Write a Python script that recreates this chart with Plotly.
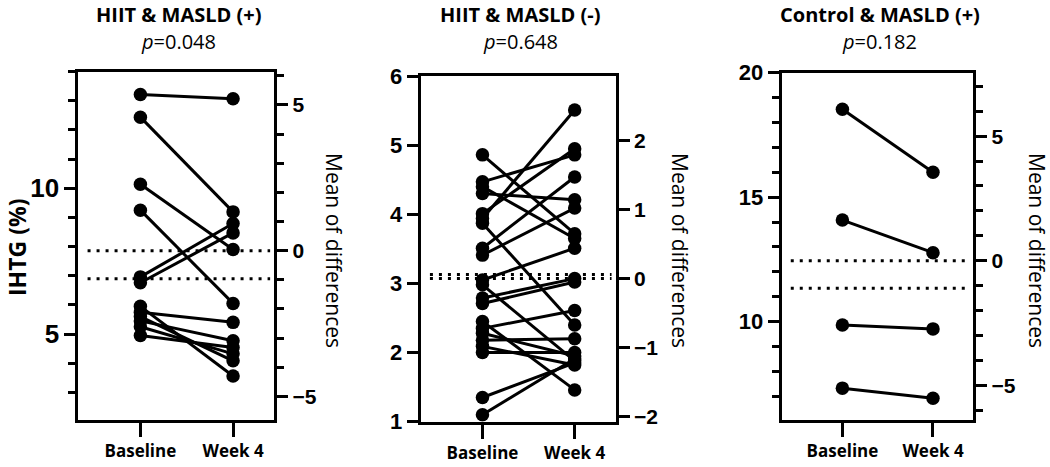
import plotly.graph_objects as go

# ---------------- data ----------------
time_labels = ["Baseline", "Week 4"]

panel_titles = ["HIIT & MASLD (+)", "HIIT & MASLD (-)", "Control & MASLD (+)"]
p_values = ["0.048", "0.648", "0.182"]

# HIIT & MASLD (+)
p1_baseline = [13.22, 12.44, 10.14, 9.25, 6.96, 6.76, 5.95, 5.75, 5.60, 5.45, 5.25, 4.95]
p1_week4 = [13.07, 9.19, 7.90, 6.05, 8.79, 8.47, 3.56, 5.40, 4.08, 4.77, 4.32, 4.54]
p1_mean_diff = -0.96

# HIIT & MASLD (-)
p2_baseline = [4.86, 4.47, 4.40, 4.30, 4.01, 3.94, 3.51, 3.41, 3.05, 3.87,
               2.98, 2.79, 2.71, 2.45, 2.35, 2.28, 2.18, 2.09, 2.00, 1.35, 1.10]
p2_week4 = [3.72, 4.86, 3.65, 4.21, 4.95, 5.51, 4.54, 4.09, 3.51, 2.40,
            1.88, 3.07, 3.02, 1.46, 2.61, 1.95, 2.20, 1.82, 2.00, 1.85, 1.91]
p2_mean_diff = 0.06

# Control & MASLD (+)
p3_baseline = [18.53, 14.08, 9.87, 7.33]
p3_week4 = [16.00, 12.77, 9.71, 6.92]
p3_mean_diff = -1.11

# ---------------- layout helpers ----------------
W, H = 1050, 467
def px_x(v):
    return v / W
def px_y(v):
    return 1 - v / H

panels = [
    dict(b=p1_baseline, w=p1_week4, md=p1_mean_diff,
         xpx=(78.3, 274.3), ypx=(71.7, 420), yrange=(2.05, 14.0), offset=7.86,
         dtick_l=5, minor_l=1, dtick_r=5, minor_r=1, lfont=26),
    dict(b=p2_baseline, w=p2_week4, md=p2_mean_diff,
         xpx=(420.7, 615.7), ypx=(76, 421.7), yrange=(1.0, 6.001), offset=3.07,
         dtick_l=1, minor_l=None, dtick_r=1, minor_r=None, lfont=22),
    dict(b=p3_baseline, w=p3_week4, md=p3_mean_diff,
         xpx=(781.7, 973.3), ypx=(72.7, 420), yrange=(6.05, 20.001), offset=12.45,
         dtick_l=5, minor_l=1, dtick_r=5, minor_r=1, lfont=22),
]

fig = go.Figure()
xr = [-0.67, 1.445]
tick_font = dict(family="Liberation Sans, Arial, sans-serif", size=21, color="black")
label_font = dict(family="Open Sans, Noto Sans, sans-serif", size=17, color="black")
txt_family = "Open Sans, Noto Sans, sans-serif"
shapes = []
annotations = []

for i, pnl in enumerate(panels, start=1):
    xa = f"x{i}"
    yl = f"y{2*i-1}"
    yr = f"y{2*i}"
    xs, ys = [], []
    for b, w in zip(pnl["b"], pnl["w"]):
        xs += [0, 1, None]
        ys += [b, w, None]
    fig.add_trace(go.Scatter(x=xs, y=ys, mode="lines+markers", xaxis=xa, yaxis=yl,
                             line=dict(color="black", width=3),
                             marker=dict(color="black", size=13.5),
                             showlegend=False, hoverinfo="skip"))
    fig.add_trace(go.Scatter(x=[0], y=[0], mode="markers", xaxis=xa, yaxis=yr,
                             marker=dict(opacity=0), showlegend=False, hoverinfo="skip"))
    xdom = [px_x(pnl["xpx"][0]), px_x(pnl["xpx"][1])]
    ydom = [px_y(pnl["ypx"][1]), px_y(pnl["ypx"][0])]
    lo, hi = pnl["yrange"]
    off = pnl["offset"]

    fig.layout[f"xaxis{i}"] = dict(
        domain=xdom, range=xr, anchor=yl, tickmode="array", tickvals=[0, 1],
        ticktext=[f"<b>{t}</b>" for t in time_labels], ticks="outside", ticklen=14,
        tickwidth=3, tickcolor="black", showline=True, mirror=True, linewidth=3,
        linecolor="black", showgrid=False, zeroline=False,
        tickfont=label_font, fixedrange=True)
    left = dict(
        domain=ydom, range=[lo, hi], anchor=xa, tickmode="linear", tick0=0,
        dtick=pnl["dtick_l"], ticks="outside", ticklen=11, tickwidth=3,
        tickcolor="black", showline=True, linewidth=3, linecolor="black",
        showgrid=False, zeroline=False,
        tickfont=dict(tick_font, size=pnl["lfont"]), tickprefix="<b>", ticksuffix="</b>")
    if pnl["minor_l"]:
        left["minor"] = dict(tickmode="linear", tick0=0, dtick=pnl["minor_l"],
                             ticks="outside", ticklen=7, tickwidth=3,
                             tickcolor="black", showgrid=False)
    fig.layout[f"yaxis{2*i-1}"] = left
    right = dict(
        domain=ydom, range=[lo - off, hi - off], anchor=xa, overlaying=yl, side="right",
        tickmode="linear", tick0=0, dtick=pnl["dtick_r"], ticks="outside", ticklen=11,
        tickwidth=3, tickcolor="black", showline=True, linewidth=3, linecolor="black",
        showgrid=False, zeroline=False, tickfont=tick_font,
        tickprefix="<b>", ticksuffix="</b>")
    if pnl["minor_r"]:
        right["minor"] = dict(tickmode="linear", tick0=0, dtick=pnl["minor_r"],
                              ticks="outside", ticklen=7, tickwidth=3,
                              tickcolor="black", showgrid=False)
    fig.layout[f"yaxis{2*i}"] = right

    # dotted reference lines on the right axis: zero and mean difference
    for yv in (0, pnl["md"]):
        shapes.append(dict(type="line", xref=xa, yref=yr, x0=-0.57, x1=1.40,
                           y0=yv, y1=yv, line=dict(color="black", width=3, dash="3px,6px")))

    cx = (pnl["xpx"][0] + pnl["xpx"][1]) / 2
    annotations.append(dict(text=f"<b>{panel_titles[i-1]}</b>", xref="paper", yref="paper",
                            x=px_x(cx + 2), y=px_y(14), xanchor="center", yanchor="middle",
                            showarrow=False,
                            font=dict(family=txt_family, size=20, color="black")))
    annotations.append(dict(text=f"<i>p</i>={p_values[i-1]}", xref="paper", yref="paper",
                            x=px_x(cx + 2), y=px_y(41), xanchor="center", yanchor="middle",
                            showarrow=False,
                            font=dict(family=txt_family, size=20, color="black")))

mod_x = [334, 680, 1037]
for mx in mod_x:
    annotations.append(dict(text="Mean of differences", xref="paper", yref="paper",
                            x=px_x(mx), y=px_y(250), xanchor="center", yanchor="middle",
                            textangle=90, showarrow=False,
                            font=dict(family=txt_family, size=21, color="black")))
annotations.append(dict(text="<b>IHTG (%)</b>", xref="paper", yref="paper",
                        x=px_x(17), y=px_y(248), xanchor="center", yanchor="middle",
                        textangle=-90, showarrow=False,
                        font=dict(family=txt_family, size=23, color="black")))

fig.update_layout(template="none", width=W, height=H, margin=dict(l=0, r=0, t=0, b=0),
                  paper_bgcolor="white", plot_bgcolor="white",
                  shapes=shapes, annotations=annotations, showlegend=False)

fig.write_html("out.html", config={"displayModeBar": False},
               post_script="document.body.style.margin='0px';")
